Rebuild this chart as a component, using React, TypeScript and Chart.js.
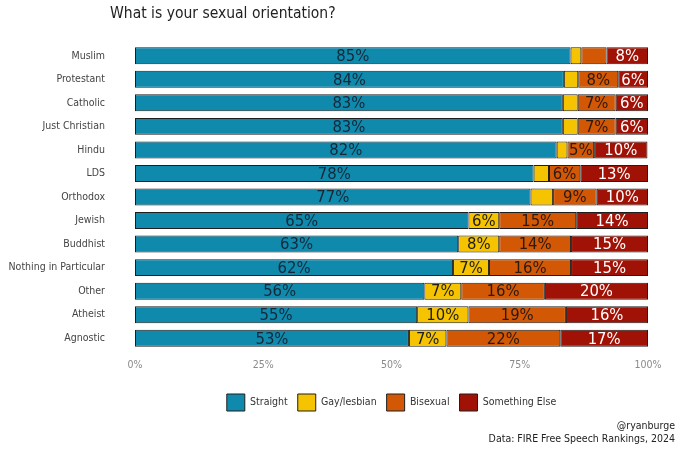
import { useEffect, useRef } from 'react'
import { Chart, registerables } from 'chart.js'

Chart.register(...registerables)

const FONT = "'DejaVu Sans Condensed', 'DejaVu Sans', sans-serif"

// religious groups, top to bottom
const groups = [
  'Muslim', 'Protestant', 'Catholic', 'Just Christian', 'Hindu', 'LDS', 'Orthodox',
  'Jewish', 'Buddhist', 'Nothing in Particular', 'Other', 'Atheist', 'Agnostic',
]

// shares in percent
const straight = [84.9, 83.6, 83.4, 83.4, 82.2, 77.7, 77.1, 65, 63, 62, 56.4, 55, 53.4]
const gayLesbian = [2.1, 2.8, 2.9, 2.9, 2.1, 3.0, 4.4, 6, 8, 7, 7.2, 10, 7.3]
const bisexual = [4.9, 7.8, 7.4, 7.4, 5.2, 6.1, 8.5, 15, 14, 16, 16.3, 19, 22.2]
const somethingElse = [8.1, 5.8, 6.3, 6.3, 10.4, 13.2, 10.0, 14, 15, 15, 20.1, 16, 17.1]

const xTicks = [0, 25, 50, 75, 100]

const seriesNames = ['Straight', 'Gay/lesbian', 'Bisexual', 'Something Else']
const seriesColors = ['#0f8aac', '#f5c300', '#d35806', '#a11206']
const labelColors = ['#14283a', '#1d1d1d', '#2a1a10', '#ffffff']

const barLabels = {
  id: 'barLabels',
  afterDatasetsDraw(chart: Chart) {
    const { ctx } = chart
    ctx.save()
    ctx.font = `16.5px ${FONT}`
    ctx.textAlign = 'center'
    ctx.textBaseline = 'middle'
    chart.data.datasets.forEach((ds, di) => {
      const meta = chart.getDatasetMeta(di)
      meta.data.forEach((el: any, i) => {
        const v = ds.data[i] as number
        if (v < 5) return
        const { x, base, y } = el.getProps(['x', 'base', 'y'], true)
        ctx.fillStyle = labelColors[di]
        ctx.fillText(`${Math.round(v)}%`, (x + base) / 2, y + 1)
      })
    })
    ctx.restore()
  },
}

const texts = {
  id: 'texts',
  afterDraw(chart: Chart) {
    const { ctx } = chart
    ctx.save()
    ctx.fillStyle = '#222'
    ctx.textBaseline = 'middle'
    ctx.textAlign = 'left'
    ctx.font = `15.5px ${FONT}`
    ctx.fillText('What is your sexual orientation?', 110, 14)
    ctx.textAlign = 'right'
    ctx.font = `10.5px ${FONT}`
    ctx.fillText('@ryanburge', 675, 426)
    ctx.fillText('Data: FIRE Free Speech Rankings, 2024', 675, 439)
    ctx.restore()
  },
}

export default function App() {
  const chartRef = useRef<HTMLCanvasElement>(null)
  const chartInstance = useRef<Chart | null>(null)

  useEffect(() => {
    document.body.style.margin = '0'
    if (!chartRef.current) return
    if (chartInstance.current) {
      chartInstance.current.destroy()
      chartInstance.current = null
    }
    const ctx = chartRef.current.getContext('2d')
    if (!ctx) return

    const series = [straight, gayLesbian, bisexual, somethingElse]

    chartInstance.current = new Chart(ctx, {
      type: 'bar',
      data: {
        labels: groups,
        datasets: series.map((data, i) => ({
          label: seriesNames[i],
          data,
          backgroundColor: seriesColors[i],
          borderColor: '#1e1e1e',
          borderWidth: 1,
          borderSkipped: false,
          barPercentage: 0.72,
          categoryPercentage: 1,
        })),
      },
      options: {
        indexAxis: 'y',
        animation: false,
        responsive: true,
        maintainAspectRatio: false,
        layout: { padding: { top: 44, right: 32, bottom: 32, left: 0 } },
        scales: {
          x: {
            stacked: true,
            min: 0,
            max: 100,
            afterBuildTicks: (scale: any) => {
              scale.ticks = xTicks.map((v) => ({ value: v }))
            },
            afterFit: (scale: any) => {
              scale.height = 34
            },
            grid: { display: false },
            border: { display: false },
            ticks: {
              padding: 1,
              color: '#8a8a8a',
              font: { size: 10.5, family: FONT },
              callback: (v) => `${v}%`,
            },
          },
          y: {
            stacked: true,
            afterFit: (scale: any) => {
              scale.width = 135
            },
            grid: { display: false },
            border: { display: false },
            ticks: {
              padding: 22,
              color: '#444',
              font: { size: 10.5, family: FONT },
            },
          },
        },
        plugins: {
          legend: {
            position: 'bottom',
            fullSize: false,
            labels: {
              boxWidth: 18,
              boxHeight: 17,
              padding: 10,
              color: '#333',
              font: { size: 10.5, family: FONT },
            },
          },
          tooltip: { enabled: false },
        },
      },
      plugins: [barLabels, texts],
    })

    return () => {
      if (chartInstance.current) {
        chartInstance.current.destroy()
        chartInstance.current = null
      }
    }
  }, [])

  return (
    <div style={{ width: '680px', height: '453px', background: '#fff' }}>
      <canvas ref={chartRef} />
    </div>
  )
}
